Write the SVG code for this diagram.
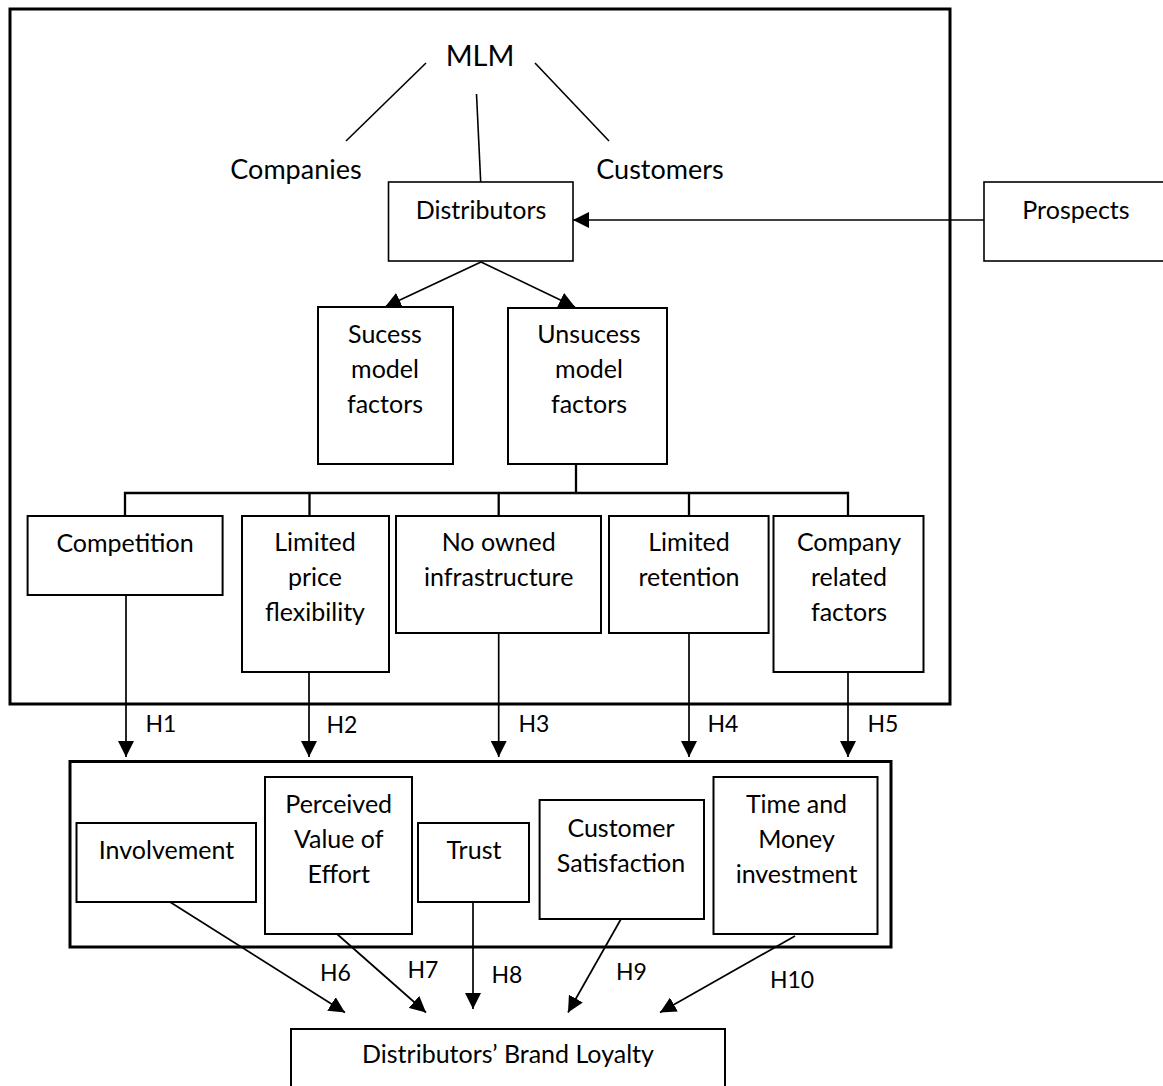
<svg xmlns="http://www.w3.org/2000/svg" width="1163" height="1086" viewBox="0 0 1163 1086">
<defs>
<marker id="ah" markerUnits="userSpaceOnUse" markerWidth="17" markerHeight="16" refX="16" refY="8" orient="auto">
<path d="M0,0 L16,8 L0,16 z" fill="#000"/>
</marker>
<style>
text{font-family:Lato,"Liberation Sans",sans-serif;fill:#000;text-anchor:middle}
.t{font-size:25px}
.big{font-size:27px}
.mlm{font-size:29px}
.h{font-size:23px}
.box{fill:#fff;stroke:#000;stroke-width:2}
.cont{fill:none;stroke:#000;stroke-width:3}
.ln{fill:none;stroke:#000;stroke-width:1.6}
.tree{fill:none;stroke:#000;stroke-width:2.3}
.arr{fill:none;stroke:#000;stroke-width:1.7;marker-end:url(#ah)}
</style>
</defs>
<rect width="1163" height="1086" fill="#fff"/>
<g id="containers">
<rect class="cont" x="10" y="9" width="940" height="695"/>
<rect class="cont" x="70" y="761.5" width="821" height="185.5"/>
</g>
<g id="connectors">
<line class="ln" x1="426" y1="63" x2="346" y2="141"/>
<line class="ln" x1="476.5" y1="94" x2="480.7" y2="182"/>
<line class="ln" x1="535" y1="63" x2="609" y2="141"/>
<line class="arr" x1="984" y1="220" x2="573" y2="220"/>
<line class="arr" x1="481" y1="262" x2="385" y2="307"/>
<line class="arr" x1="481" y1="262" x2="575" y2="307"/>
<polyline class="tree" points="576,464 576,493"/>
<polyline class="tree" points="125,516 125,493 848,493 848,516"/>
<line class="tree" x1="309.5" y1="493" x2="309.5" y2="516"/>
<line class="tree" x1="498.7" y1="493" x2="498.7" y2="516"/>
<line class="tree" x1="689" y1="493" x2="689" y2="516"/>
<line class="arr" x1="126" y1="595" x2="126" y2="757"/>
<line class="arr" x1="309" y1="672" x2="309" y2="757"/>
<line class="arr" x1="498.7" y1="633" x2="498.7" y2="757"/>
<line class="arr" x1="689" y1="633" x2="689" y2="757"/>
<line class="arr" x1="848" y1="669" x2="848" y2="757"/>
<line class="arr" x1="170" y1="902" x2="345" y2="1012.5"/>
<line class="arr" x1="337" y1="934" x2="426" y2="1012.5"/>
<line class="arr" x1="473" y1="902" x2="473" y2="1009"/>
<line class="arr" x1="621" y1="919" x2="568" y2="1012.5"/>
<line class="arr" x1="795" y1="936" x2="660" y2="1012.5"/>
<text class="h" x="161" y="732">H1</text>
<text class="h" x="342" y="733">H2</text>
<text class="h" x="534" y="732">H3</text>
<text class="h" x="723" y="732">H4</text>
<text class="h" x="883" y="732">H5</text>
<text class="h" x="335.5" y="981">H6</text>
<text class="h" x="423" y="978">H7</text>
<text class="h" x="507" y="983">H8</text>
<text class="h" x="631.5" y="980">H9</text>
<text class="h" x="792" y="988">H10</text>
</g>
<g id="mlm"><text class="mlm" x="480" y="66">MLM</text></g>
<g id="companies"><text class="big" x="296" y="179">Companies</text></g>
<g id="customers"><text class="big" x="660" y="179">Customers</text></g>
<g id="distributors"><rect class="box" style="stroke-width:1.6" x="388.5" y="182" width="184.5" height="79"/><text class="t" x="481" y="219">Distributors</text></g>
<g id="prospects"><rect class="box" style="stroke-width:1.6" x="984" y="182" width="190" height="79"/><text class="t" x="1076" y="219">Prospects</text></g>
<g id="success"><rect class="box" x="318" y="307" width="135" height="157"/><text class="t" x="385" y="343">Sucess</text><text class="t" x="385" y="378">model</text><text class="t" x="385" y="413">factors</text></g>
<g id="unsuccess"><rect class="box" x="508" y="308" width="159" height="156"/><text class="t" x="589" y="343">Unsucess</text><text class="t" x="589" y="378">model</text><text class="t" x="589" y="413">factors</text></g>
<g id="competition"><rect class="box" x="27.6" y="516" width="195" height="79"/><text class="t" x="125" y="552">Competition</text></g>
<g id="price"><rect class="box" x="242" y="516" width="147" height="156"/><text class="t" x="315" y="551">Limited</text><text class="t" x="315" y="586">price</text><text class="t" x="315" y="621">flexibility</text></g>
<g id="infra"><rect class="box" x="396" y="516" width="205" height="117"/><text class="t" x="498.7" y="551">No owned</text><text class="t" x="498.7" y="586">infrastructure</text></g>
<g id="retention"><rect class="box" x="609" y="516" width="159.6" height="117"/><text class="t" x="689" y="551">Limited</text><text class="t" x="689" y="586">retention</text></g>
<g id="company"><rect class="box" x="773.5" y="516" width="150" height="156"/><text class="t" x="849" y="551">Company</text><text class="t" x="849" y="586">related</text><text class="t" x="849" y="621">factors</text></g>
<g id="involvement"><rect class="box" x="76.5" y="823" width="179.5" height="79"/><text class="t" x="166.5" y="859">Involvement</text></g>
<g id="perceived"><rect class="box" x="265" y="777" width="147" height="157"/><text class="t" x="338.7" y="813">Perceived</text><text class="t" x="338.7" y="848">Value of</text><text class="t" x="338.7" y="883">Effort</text></g>
<g id="trust"><rect class="box" x="418" y="823" width="111" height="79"/><text class="t" x="474" y="859">Trust</text></g>
<g id="satisfaction"><rect class="box" x="539.6" y="800" width="164.4" height="119"/><text class="t" x="621" y="837">Customer</text><text class="t" x="621" y="872">Satisfaction</text></g>
<g id="investment"><rect class="box" x="713.5" y="777" width="164" height="157"/><text class="t" x="796.5" y="813">Time and</text><text class="t" x="796.5" y="848">Money</text><text class="t" x="796.5" y="883">investment</text></g>
<g id="loyalty"><rect class="box" x="291" y="1029" width="434" height="70"/><text class="t" x="508" y="1063">Distributors’ Brand Loyalty</text></g>
</svg>
